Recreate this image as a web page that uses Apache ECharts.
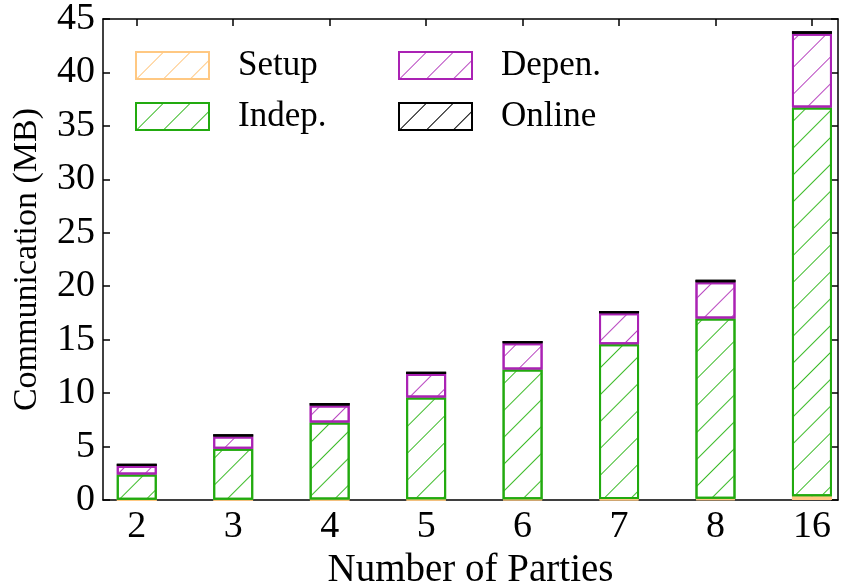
<!DOCTYPE html>
<html>
<head>
<meta charset="utf-8">
<script src="https://cdn.jsdelivr.net/npm/echarts@6/dist/echarts.min.js"></script>
<style>
  html, body { margin: 0; padding: 0; background: #fff; }
  #chart { width: 846px; height: 584px; }
</style>
</head>
<body>
<div id="chart"></div>
<script>
// Number of parties on the x axis
const parties = ['2', '3', '4', '5', '6', '7', '8', '16'];

// Communication per phase (MB), stacked bottom to top
const setup  = [0.02, 0.03, 0.05, 0.06, 0.08, 0.10, 0.12, 0.35];
const indep  = [2.37, 4.77, 7.19, 9.52, 12.12, 14.48, 16.87, 36.38];
const depen  = [0.78, 1.14, 1.61, 2.20, 2.46, 2.89, 3.39, 6.88];
const online = [0.22, 0.22, 0.22, 0.22, 0.22, 0.22, 0.22, 0.25];

const yTicks = [0, 5, 10, 15, 20, 25, 30, 35, 40, 45];

const FONT = '"Liberation Serif", "DejaVu Serif", serif';
const FS_TICK = 38;
const FS_YNAME = 34;
const FS_XNAME = 39;
const FS_LEGEND = 35;

// Value first, party index second, so the stack runs along the value dimension
function barSeries(name, values, color, hatchColor) {
  return {
    name: name,
    type: 'bar',
    stack: 'total',
    barWidth: 40,
    dimensions: ['mb', 'party'],
    encode: { x: 1, y: 0 },
    data: values.map((v, i) => [v, i]),
    itemStyle: {
      color: '#fff',
      borderColor: color,
      borderWidth: 2,
      // "/" hatching
      decal: {
        symbol: 'rect',
        symbolSize: 1,
        color: hatchColor,
        backgroundColor: null,
        dashArrayX: [1, 0],
        dashArrayY: [1, 18],
        rotation: -Math.PI / 4
      }
    },
    emphasis: { disabled: true }
  };
}

const chart = echarts.init(document.getElementById('chart'));

const idx = parties.map((p, i) => i);

const legendCommon = {
  orient: 'vertical',
  top: 48,
  padding: 0,
  icon: 'rect',
  itemWidth: 73, itemHeight: 27, itemGap: 16,
  textStyle: { fontFamily: FONT, fontSize: FS_LEGEND, color: '#000', padding: [0, 0, 0, 24] },
  selectedMode: false
};

chart.setOption({
  animation: false,
  backgroundColor: '#fff',
  textStyle: { fontFamily: FONT },
  grid: { left: 103, right: 8, top: 19, bottom: 84, containLabel: false, outerBoundsMode: 'none' },
  legend: [
    Object.assign({ data: ['Setup', 'Indep.'], left: 135 }, legendCommon),
    Object.assign({ data: ['Depen.', 'Online'], left: 398 }, legendCommon)
  ],
  xAxis: [
    {
      type: 'value',
      position: 'bottom',
      min: -0.35, max: 7.27,
      name: 'Number of Parties',
      nameLocation: 'middle',
      nameGap: 42,
      nameTextStyle: { fontFamily: FONT, fontSize: FS_XNAME, color: '#000', verticalAlign: 'top' },
      axisLine: { show: true, onZero: false, lineStyle: { color: '#000', width: 1.5 } },
      axisTick: { show: true, inside: true, length: 7, customValues: idx, lineStyle: { color: '#000', width: 1.5 } },
      axisLabel: { customValues: idx, formatter: v => parties[Math.round(v)], fontFamily: FONT, fontSize: FS_TICK, color: '#000', margin: 8 },
      splitLine: { show: false }
    },
    {
      type: 'value',
      position: 'top',
      min: -0.35, max: 7.27,
      axisLine: { show: true, onZero: false, lineStyle: { color: '#000', width: 1.5 } },
      axisTick: { show: true, inside: true, length: 7, customValues: idx, lineStyle: { color: '#000', width: 1.5 } },
      axisLabel: { show: false },
      splitLine: { show: false }
    }
  ],
  yAxis: [
    {
      type: 'value',
      position: 'left',
      min: 0, max: 45, interval: 5,
      name: 'Communication (MB)',
      nameLocation: 'middle',
      nameGap: 59,
      nameTextStyle: { fontFamily: FONT, fontSize: FS_YNAME, color: '#000' },
      axisLine: { show: true, onZero: false, lineStyle: { color: '#000', width: 1.5 } },
      axisTick: { show: true, inside: true, length: 7, lineStyle: { color: '#000', width: 1.5 } },
      axisLabel: { customValues: yTicks, fontFamily: FONT, fontSize: FS_TICK, color: '#000', margin: 8 },
      splitLine: { show: false }
    },
    {
      type: 'value',
      position: 'right',
      min: 0, max: 45, interval: 5,
      axisLine: { show: true, onZero: false, lineStyle: { color: '#000', width: 1.5 } },
      axisTick: { show: true, inside: true, length: 7, lineStyle: { color: '#000', width: 1.5 } },
      axisLabel: { show: false },
      splitLine: { show: false }
    }
  ],
  series: [
    barSeries('Setup', setup, '#ffc882', '#ffc882'),
    barSeries('Indep.', indep, '#22aa0f', '#3cbb28'),
    barSeries('Depen.', depen, '#aa22b4', '#b845c0'),
    barSeries('Online', online, '#000000', '#000000')
  ]
});
</script>
</body>
</html>
